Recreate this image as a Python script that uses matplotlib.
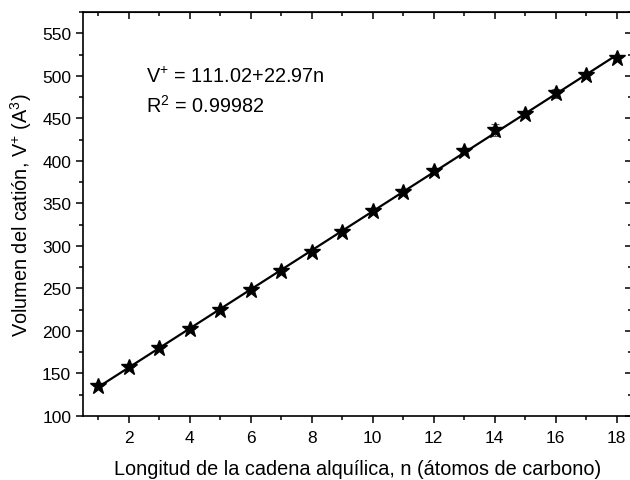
import matplotlib.pyplot as plt
import numpy as np
from matplotlib.ticker import MultipleLocator

plt.rcParams['font.family'] = ['Liberation Sans', 'DejaVu Sans']
plt.rcParams['mathtext.fontset'] = 'custom'
plt.rcParams['mathtext.rm'] = 'Liberation Sans'
plt.rcParams['mathtext.it'] = 'Liberation Sans:italic'

# datos
n = [1, 2, 3, 4, 5, 6, 7, 8, 9, 10, 11, 12, 13, 14, 15, 16, 17, 18]
volumen = [134.7, 157.1, 179.4, 202.1, 224.8, 248.4, 270.0, 292.8, 316.6, 340.6,
           363.7, 388.4, 412.0, 436.3, 455.1, 479.4, 500.9, 520.8]
error = [2, 2, 2, 2, 2, 2, 2, 2, 2, 2, 2, 2, 3, 7, 2, 5, 2, 2]
a, b = 111.02, 22.97

fig = plt.figure(figsize=(6.3, 4.81), dpi=100)
ax = fig.add_axes([83 / 630, 64 / 481, 549 / 630, 404 / 481])

xf = np.array([n[0], n[-1]])
ax.plot(xf, a + b * xf, color='black', lw=1.6, zorder=2)
ax.errorbar(n, volumen, yerr=error, fmt='*', color='black', ms=12,
            ecolor='#555555', elinewidth=0.8, capsize=3, capthick=0.8, zorder=3)

ax.set_xlim(0.5, 18.5)
ax.set_ylim(100, 575)
ax.xaxis.set_major_locator(MultipleLocator(2))
ax.xaxis.set_minor_locator(MultipleLocator(1))
ax.yaxis.set_major_locator(MultipleLocator(50))
ax.yaxis.set_minor_locator(MultipleLocator(25))
ax.tick_params(which='both', direction='out', labelsize=12.5, width=1.1)
ax.tick_params(axis='x', which='major', pad=5)
ax.tick_params(which='major', length=5)
ax.tick_params(which='minor', length=3)
ax.set_xticks(range(2, 19, 2))

# ejes superior y derecho con marcas hacia dentro
top = ax.secondary_xaxis('top')
top.xaxis.set_major_locator(MultipleLocator(2))
top.xaxis.set_minor_locator(MultipleLocator(1))
top.tick_params(which='both', direction='in', labeltop=False, width=1.1)
top.tick_params(which='major', length=5)
top.tick_params(which='minor', length=3)
right = ax.secondary_yaxis('right')
right.yaxis.set_major_locator(MultipleLocator(50))
right.yaxis.set_minor_locator(MultipleLocator(25))
right.tick_params(which='both', direction='in', labelright=False, width=1.1)
right.tick_params(which='major', length=5)
right.tick_params(which='minor', length=3)

for s in ax.spines.values():
    s.set_linewidth(1.2)

ax.set_xlabel('Longitud de la cadena alquílica, n (átomos de carbono)', fontsize=14.3, labelpad=10)
ax.set_ylabel('Volumen del catión, V$^{\\mathregular{+}}$ (A$^{\\mathregular{3}}$)', fontsize=14.3, labelpad=6)

ax.text(2.55, 492.5, 'V$^{\\mathregular{+}}$ = %.2f+%.2fn' % (a, b), fontsize=14.3, va='baseline')
ax.text(2.55, 457.5, 'R$^{\\mathregular{2}}$ = 0.99982', fontsize=14.3, va='baseline')

plt.savefig('out.png', dpi=100)
